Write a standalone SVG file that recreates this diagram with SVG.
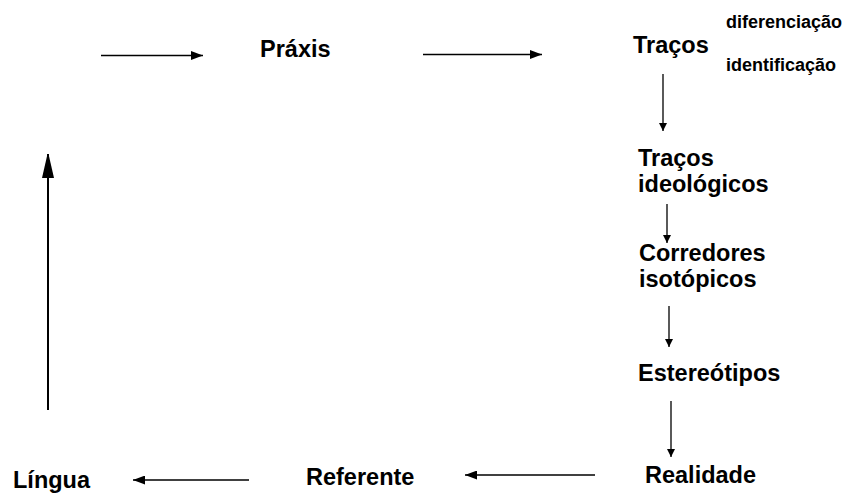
<svg xmlns="http://www.w3.org/2000/svg" width="844" height="493" viewBox="0 0 844 493">
<style>
.t{font-family:"Liberation Sans",Arial,sans-serif;font-weight:bold;font-size:23.5px;fill:#000}
.s{font-family:"Liberation Sans",Arial,sans-serif;font-weight:bold;font-size:18px;fill:#000}
.c{stroke:#000;stroke-width:1.3;fill:none}
.cb{stroke:#000;stroke-width:2;fill:none}
</style>
<defs>
<marker id="ah" markerUnits="userSpaceOnUse" markerWidth="12" markerHeight="9" refX="12" refY="4.5" orient="auto"><path d="M0,0 L12,4.5 L0,9 Z" fill="#000"/></marker>
<marker id="ahs" markerUnits="userSpaceOnUse" markerWidth="8" markerHeight="8" refX="8" refY="4" orient="auto"><path d="M0,0 L8,4 L0,8 Z" fill="#000"/></marker>
<marker id="ahb" markerUnits="userSpaceOnUse" markerWidth="24" markerHeight="12" refX="24" refY="6" orient="auto"><path d="M0,0 L24,5.5 L24,6.5 L0,12 Z" fill="#000"/></marker>
</defs>
<rect width="844" height="493" fill="#fff"/>
<g id="connectors">
<line class="c" x1="101" y1="55.5" x2="203" y2="55.5" marker-end="url(#ah)"/>
<line class="c" x1="423" y1="54.5" x2="542" y2="54.5" marker-end="url(#ah)"/>
<line class="c" x1="663" y1="74" x2="663" y2="131" marker-end="url(#ahs)"/>
<line class="c" x1="667" y1="204" x2="667" y2="243" marker-end="url(#ahs)"/>
<line class="c" x1="669" y1="306" x2="669" y2="347" marker-end="url(#ahs)"/>
<line class="c" x1="671" y1="401" x2="671" y2="457" marker-end="url(#ahs)"/>
<line class="c" x1="595" y1="475" x2="465" y2="475" marker-end="url(#ah)"/>
<line class="c" x1="249" y1="480" x2="133" y2="480" marker-end="url(#ah)"/>
<line class="cb" x1="48" y1="410" x2="48" y2="154" marker-end="url(#ahb)"/>
</g>
<g id="praxis"><text class="t" x="260" y="57">Práxis</text></g>
<g id="tracos"><text class="t" x="633" y="53">Traços</text>
<text class="s" x="726" y="28">diferenciação</text>
<text class="s" x="726" y="71">identificação</text></g>
<g id="tracos-ideologicos"><text class="t" x="638" y="166">Traços</text><text class="t" x="638" y="192">ideológicos</text></g>
<g id="corredores"><text class="t" x="639" y="261">Corredores</text><text class="t" x="639" y="287">isotópicos</text></g>
<g id="estereotipos"><text class="t" x="638" y="381">Estereótipos</text></g>
<g id="realidade"><text class="t" x="645" y="483">Realidade</text></g>
<g id="referente"><text class="t" x="306" y="485">Referente</text></g>
<g id="lingua"><text class="t" x="13" y="488">Língua</text></g>
</svg>
